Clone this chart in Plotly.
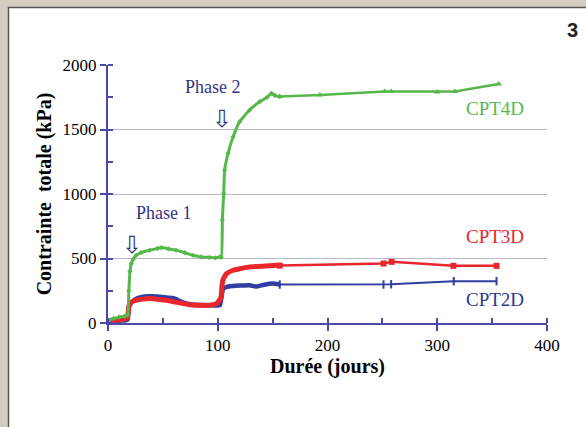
import plotly.graph_objects as go

# ---- data (days, kPa) ----
cpt4d_t_dense = [0, 5, 10, 15, 17.8, 19, 20, 21.2, 23, 25.7, 30, 37.9, 45, 48.6, 55, 62, 70, 77.4, 85, 92.6, 98, 101.8, 103.3,
                 104.2, 105.4, 106.3, 109.4, 114, 120, 129, 138.3, 145, 149, 152, 156.5]
cpt4d_v_dense = [20, 35, 45, 52, 60, 250, 400, 461, 495, 525, 545, 564, 578, 585, 575, 564, 545, 525, 512, 508, 505, 512, 510,
                 797, 1005, 1186, 1315, 1444, 1561, 1651, 1716, 1750, 1781, 1765, 1755]
cpt4d_t_late = [156.5, 193, 252, 258, 300, 316, 356]
cpt4d_v_late = [1755, 1768, 1795, 1795, 1790, 1795, 1852]

cpt3d_t_dense = [0, 5, 10, 15, 17.8, 19, 21, 25, 30, 37.9, 45, 53, 60, 68.3, 75, 83.5, 92, 98.8, 101, 103, 104, 105, 106.3, 108,
                 114, 120, 129, 140, 153.5, 156.5]
cpt3d_v_dense = [15, 20, 25, 30, 40, 130, 160, 175, 183, 189, 185, 176, 165, 150, 142, 137, 137, 150, 170, 200, 300, 340, 360, 383,
                 409, 420, 435, 440, 448, 445]
cpt3d_t_late = [156.5, 251, 258.5, 314.7, 354]
cpt3d_v_late = [445, 461, 474, 443, 443]

cpt2d_t_dense = [0, 5, 10, 15, 17.8, 19, 21, 25, 30, 37.9, 45, 53, 59, 62, 68, 75, 83.5, 92, 101.8, 103.5, 104.8, 108, 111, 120,
                 129, 135, 142, 150, 156.5]
cpt2d_v_dense = [10, 15, 18, 20, 25, 120, 155, 185, 200, 207, 205, 197, 195, 185, 160, 145, 140, 138, 137, 200, 267, 278, 285, 290,
                 293, 282, 296, 306, 298]
cpt2d_t_late = [156.5, 251, 258, 315, 354]
cpt2d_v_late = [298, 298, 300, 324, 324]

x_ticks = [0, 100, 200, 300, 400]
y_ticks = [0, 500, 1000, 1500, 2000]

GREEN = "#56b84a"
RED = "#e8262b"
BLUE = "#2f3ea0"
AXIS = "#4a4aa8"
SERIF = "Liberation Serif, Times New Roman, serif"

fig = go.Figure()

# dense measurement phases
fig.add_trace(go.Scatter(x=cpt2d_t_dense, y=cpt2d_v_dense, mode="lines",
                         line=dict(color=BLUE, width=4.5, shape="spline", smoothing=0.4)))
fig.add_trace(go.Scatter(x=cpt3d_t_dense, y=cpt3d_v_dense, mode="lines",
                         line=dict(color=RED, width=5, shape="spline", smoothing=0.4)))
fig.add_trace(go.Scatter(x=cpt4d_t_dense, y=cpt4d_v_dense, mode="lines+markers",
                         line=dict(color=GREEN, width=3, shape="spline", smoothing=0.4),
                         marker=dict(symbol="diamond", size=4, color=GREEN)))
# sparse later readings
fig.add_trace(go.Scatter(x=cpt2d_t_late, y=cpt2d_v_late, mode="lines+markers",
                         line=dict(color=BLUE, width=2),
                         marker=dict(symbol="line-ns", size=6, line=dict(color=BLUE, width=2))))
fig.add_trace(go.Scatter(x=cpt3d_t_late, y=cpt3d_v_late, mode="lines+markers",
                         line=dict(color=RED, width=2.5),
                         marker=dict(symbol="square", size=6, color=RED)))
fig.add_trace(go.Scatter(x=cpt4d_t_late, y=cpt4d_v_late, mode="lines+markers",
                         line=dict(color=GREEN, width=2.5),
                         marker=dict(symbol="triangle-up", size=6, color=GREEN)))

# pixel-based placement helpers for text
L, R, T, B = 108, 39, 65, 104
PW, PH = 586 - L - R, 427 - T - B


def px(xp):
    return (xp - L) / PW


def py(yp):
    return (427 - B - yp) / PH


label_specs = [
    ("CPT4D", 495, 108, GREEN, 19),
    ("CPT3D", 495, 236, RED, 19),
    ("CPT2D", 495, 299.5, "#2e3a8c", 19),
    ("Phase 1", 164, 213, "#35357f", 18),
    ("Phase 2", 213, 87, "#35357f", 18),
]
ann = []
for txt, xp, yp, col, sz in label_specs:
    ann.append(dict(x=px(xp), y=py(yp), xref="paper", yref="paper", text=txt, showarrow=False,
                    font=dict(family=SERIF, size=sz, color=col), xanchor="center", yanchor="middle"))
for xp, yp in [(131.5, 245), (222, 119)]:
    ann.append(dict(x=px(xp), y=py(yp), xref="paper", yref="paper", text="⇩", showarrow=False,
                    font=dict(family="DejaVu Sans", size=24, color="#35357f"), xanchor="center", yanchor="middle"))
ann.append(dict(x=px(572), y=py(30), xref="paper", yref="paper", text="<b>3</b>", showarrow=False,
                font=dict(family="Liberation Sans, Arial, sans-serif", size=20, color="#222"),
                xanchor="center", yanchor="middle"))

shapes = [dict(type="rect", xref="paper", yref="paper", layer="below",
               x0=px(8.5), x1=px(700), y0=py(600), y1=py(7.5),
               fillcolor="white", line=dict(color="#555555", width=1.5))]

fig.update_layout(
    width=586, height=427,
    margin=dict(l=L, r=R, t=T, b=B),
    paper_bgcolor="#d5cdbf",
    plot_bgcolor="rgba(0,0,0,0)",
    showlegend=False,
    annotations=ann,
    shapes=shapes,
    xaxis=dict(range=[0, 400], tickvals=x_ticks, ticktext=[str(v) for v in x_ticks],
               showgrid=False, zeroline=False, showline=True, linecolor=AXIS, linewidth=2,
               ticks="outside", ticklen=6, tickwidth=2, tickcolor=AXIS,
               minor=dict(dtick=50, ticks="inside", ticklen=5, tickwidth=1.5, tickcolor=AXIS),
               tickfont=dict(family=SERIF, size=17, color="black"),
               title=dict(text="<b>Durée (jours)</b>", font=dict(family=SERIF, size=20, color="black"), standoff=4)),
    yaxis=dict(range=[0, 2000], tickvals=y_ticks, ticktext=[str(v) for v in y_ticks],
               showgrid=True, gridcolor="#b9b9c9", gridwidth=1.2, zeroline=False,
               showline=True, linecolor=AXIS, linewidth=2,
               ticks="outside", ticklen=6, tickwidth=2, tickcolor=AXIS,
               minor=dict(dtick=250, ticks="inside", ticklen=5, tickwidth=1.5, tickcolor=AXIS),
               tickfont=dict(family=SERIF, size=17, color="black"),
               title=dict(text="<b>Contrainte  totale (kPa)</b>", font=dict(family=SERIF, size=20, color="black"),
                          standoff=6)),
)

fig.write_html("out.html")
